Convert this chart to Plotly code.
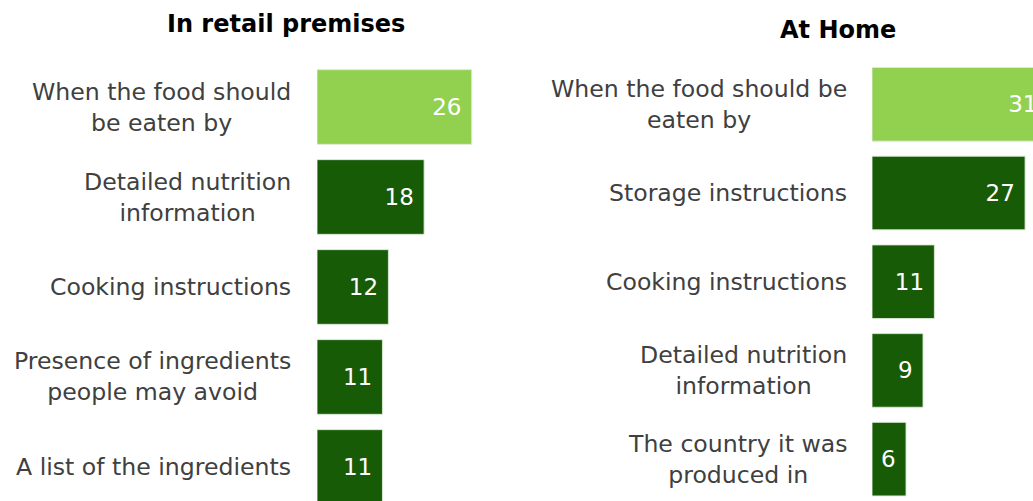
import plotly.graph_objects as go

# Information people look for on food labels, by setting (%)
retail_labels = [
    "When the food should<br>be eaten by",
    "Detailed nutrition<br>information",
    "Cooking instructions",
    "Presence of ingredients<br>people may avoid",
    "A list of the ingredients",
]
retail_values = [26, 18, 12, 11, 11]

home_labels = [
    "When the food should be<br>eaten by",
    "Storage instructions",
    "Cooking instructions",
    "Detailed nutrition<br>information",
    "The country it was<br>produced in",
]
home_values = [31, 27, 11, 9, 6]

panel_titles = ["In retail premises", "At Home"]

LIGHT = "#92D050"
DARK = "#175B07"
FONT = "DejaVu Sans, Verdana, sans-serif"
W, H = 1033, 501


def bar_colors(n):
    return [LIGHT] + [DARK] * (n - 1)


fig = go.Figure()

for labels, values, xa, ya in [
    (retail_labels, retail_values, "x", "y"),
    (home_labels, home_values, "x2", "y2"),
]:
    fig.add_trace(go.Bar(
        y=labels, x=values, orientation="h",
        xaxis=xa, yaxis=ya, width=0.83,
        marker=dict(color=bar_colors(len(values)),
                    line=dict(color="rgba(220,235,215,0.9)", width=1)),
        texttemplate="%{x}\u00a0", textposition="inside",
        insidetextanchor="end", constraintext="none", textangle=0,
        textfont=dict(family=FONT, size=23, color="white"),
        hoverinfo="skip", showlegend=False,
    ))

annotations = []
for labels, ya, xr in [(retail_labels, "y", 293), (home_labels, "y2", 849)]:
    for lab in labels:
        annotations.append(dict(
            text=lab, xref="paper", x=xr / W, xanchor="right",
            yref=ya, y=lab, yanchor="middle", align="center",
            showarrow=False, font=dict(family=FONT, size=23.6, color="#404040"),
        ))

for title, xc, yc in [(panel_titles[0], 286, 24), (panel_titles[1], 838, 30)]:
    annotations.append(dict(
        text=f"<b>{title}</b>", xref="paper", x=xc / W, xanchor="center",
        yref="paper", y=1 - yc / H, yanchor="middle", showarrow=False,
        font=dict(family=FONT, size=24, color="black"),
    ))

fig.update_layout(
    width=W, height=H,
    margin=dict(l=0, r=0, t=0, b=0),
    paper_bgcolor="white", plot_bgcolor="white",
    xaxis=dict(domain=[317 / W, 505 / W], range=[0, 188 / 5.95], visible=False),
    yaxis=dict(domain=[0, 1], range=[4.378, -1.189], visible=False,
               categoryorder="array", categoryarray=retail_labels),
    xaxis2=dict(domain=[872 / W, 1], range=[0, 161 / 5.67], visible=False, anchor="y2"),
    yaxis2=dict(domain=[0, 1], range=[4.472, -1.176], visible=False, anchor="x2",
                categoryorder="array", categoryarray=home_labels),
    annotations=annotations,
)

fig.write_html("out.html")
